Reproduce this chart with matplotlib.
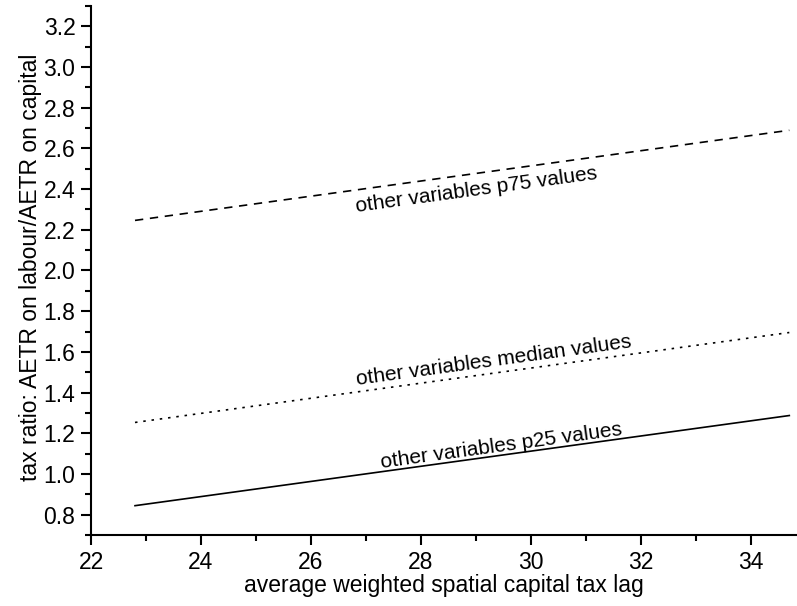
import matplotlib
matplotlib.use("Agg")
import matplotlib.pyplot as plt
from matplotlib.ticker import MultipleLocator, FormatStrFormatter

# data
x_vals = [22.8, 34.7]
p25_vals = [0.844, 1.287]
median_vals = [1.253, 1.695]
p75_vals = [2.246, 2.689]

series_labels = [
    "other variables p25 values",
    "other variables median values",
    "other variables p75 values",
]
# where each label sits (centre x, baseline y)
label_x = [29.48, 29.33, 29.03]
label_y = [1.112, 1.528, 2.369]

plt.rcParams["font.family"] = ["Liberation Sans", "DejaVu Sans"]

fig = plt.figure(figsize=(7.97, 6.06), dpi=100)
ax = fig.add_axes([0.1142, 0.1172, 0.8858, 0.873])

ax.plot(x_vals, p25_vals, color="black", lw=1.2, ls="-")
ax.plot(x_vals, median_vals, color="black", lw=1.2, ls=(0, (1.5, 3.5)))
ax.plot(x_vals, p75_vals, color="black", lw=1.2, ls=(0, (5, 4)))

ax.set_xlim(22, 34.84)
ax.set_ylim(0.7, 3.3)

ax.xaxis.set_major_locator(MultipleLocator(2))
ax.xaxis.set_minor_locator(MultipleLocator(1))
ax.yaxis.set_major_locator(MultipleLocator(0.2))
ax.yaxis.set_minor_locator(MultipleLocator(0.1))
ax.yaxis.set_major_formatter(FormatStrFormatter("%.1f"))

for side in ["top", "right"]:
    ax.spines[side].set_visible(False)
for side in ["left", "bottom"]:
    ax.spines[side].set_linewidth(1.5)

ax.tick_params(which="major", direction="out", length=7.2, width=1.5,
               labelsize=16.5, pad=4)
ax.tick_params(which="minor", direction="out", length=4.3, width=1.5)

ax.set_xlabel("average weighted spatial capital tax lag", fontsize=16.5, labelpad=0)
ax.set_ylabel("tax ratio: AETR on labour/AETR on capital", fontsize=16.5)
ax.yaxis.set_label_coords(-0.0694, 0.506)

# labels along the lines
angle = 7.82
for lx, ly, txt in zip(label_x, label_y, series_labels):
    ax.text(lx, ly, txt, rotation=angle, rotation_mode="anchor", fontsize=15,
            ha="center", va="baseline")

fig.savefig("out.png", dpi=100)
